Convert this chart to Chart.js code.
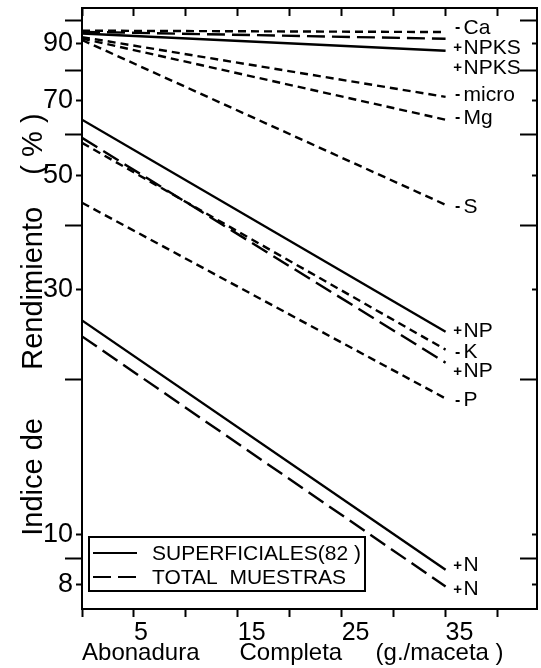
<!DOCTYPE html>
<html>
<head>
<meta charset="utf-8">
<script src="https://cdn.jsdelivr.net/npm/chart.js@4/dist/chart.umd.min.js"></script>
<style>
html, body { margin: 0; padding: 0; background: #fff; }
canvas { display: block; }
</style>
</head>
<body>
<canvas id="c" width="541" height="668"></canvas>
<script>
// ---- data ----
const xPoints = [0, 35];
const xTickValues = [0, 5, 10, 15, 20, 25, 30, 35, 40];
const xTickLabels = [5, 15, 25, 35];
const yTickValues = [8, 9, 10, 20, 30, 40, 50, 60, 70, 80, 90, 100];
const yTickLabels = [8, 10, 30, 50, 70, 90];

const caValues        = [95.5, 94.9];
const npksTotalValues = [95.0, 92.1];
const npksSupValues   = [94.3, 87.3];
const microValues     = [92.8, 71.0];
const mgValues        = [92.2, 64.1];
const sValues         = [91.6, 43.8];
const npSupValues     = [64.1, 24.8];
const kValues         = [57.8, 22.9];
const npTotalValues   = [59.1, 21.6];
const pValues         = [44.2, 18.4];
const nSupValues      = [26.1, 8.55];
const nTotalValues    = [24.3, 7.93];

const seriesValues = [caValues, npksTotalValues, npksSupValues, microValues, mgValues, sValues,
                      npSupValues, kValues, npTotalValues, pValues, nSupValues, nTotalValues];
const seriesPrefixes = ['-', '+', '+', '-', '-', '-', '+', '-', '+', '-', '+', '+'];
const seriesNames = ['Ca', 'NPKS', 'NPKS', 'micro', 'Mg', 'S', 'NP', 'K', 'NP', 'P', 'N', 'N'];
const seriesKinds = ['menos', 'total', 'sup', 'menos', 'menos', 'menos', 'sup', 'menos', 'total', 'menos', 'sup', 'total'];
const legendKinds = ['sup', 'total'];
const legendTexts = ['SUPERFICIALES(82 )', 'TOTAL  MUESTRAS'];
const xTitle = 'Abonadura      Completa     (g./maceta )     ';
const yTitle = 'Indice de      Rendimiento    ( % )    ';

// ---- styles ----
const FONT = "'Liberation Sans', Arial, sans-serif";
const dashes = { sup: [], total: [18, 7], menos: [8, 5] };
const labelNudge = [-4, 9, 17, -2, -2, 2, -1, 3, 9, 2, -4, 3];

const endLabels = {
  id: 'endLabels',
  afterDatasetsDraw(chart) {
    const { ctx } = chart;
    const xs = chart.scales.x, ys = chart.scales.y;
    ctx.save();
    ctx.fillStyle = '#000';
    ctx.textBaseline = 'middle';
    seriesValues.forEach((vals, i) => {
      const px = xs.getPixelForValue(xPoints[xPoints.length - 1]);
      const py = ys.getPixelForValue(vals[vals.length - 1]) + labelNudge[i];
      ctx.textAlign = 'center';
      ctx.font = (seriesPrefixes[i] === '+' ? 'bold 15px ' : 'bold 16px ') + FONT;
      ctx.fillText(seriesPrefixes[i], px + 12, py);
      ctx.textAlign = 'left';
      ctx.font = '21px ' + FONT;
      ctx.fillText(seriesNames[i], px + 18, py);
    });
    ctx.restore();
  }
};

const boxLegend = {
  id: 'boxLegend',
  afterDraw(chart) {
    const { ctx, chartArea } = chart;
    const bx = chartArea.left + 7, by = chartArea.bottom - 72, bw = 276, bh = 54;
    ctx.save();
    ctx.strokeStyle = '#000';
    ctx.fillStyle = '#000';
    ctx.lineWidth = 2;
    ctx.setLineDash([]);
    ctx.strokeRect(bx, by, bw, bh);
    ctx.font = '21px ' + FONT;
    ctx.textBaseline = 'middle';
    ctx.textAlign = 'left';
    legendTexts.forEach((t, i) => {
      const ly = by + 16 + i * 24;
      ctx.setLineDash(dashes[legendKinds[i]]);
      ctx.lineWidth = 2.2;
      ctx.beginPath();
      ctx.moveTo(bx + 4, ly);
      ctx.lineTo(bx + 48, ly);
      ctx.stroke();
      ctx.setLineDash([]);
      ctx.fillText(t, bx + 63, ly + 1);
    });
    ctx.restore();
  }
};

const isLabelledY = (ctx) => ctx.tick && yTickLabels.includes(ctx.tick.value);

new Chart(document.getElementById('c'), {
  type: 'line',
  data: {
    datasets: seriesValues.map((vals, i) => ({
      label: seriesPrefixes[i] + seriesNames[i],
      data: xPoints.map((x, j) => ({ x: x, y: vals[j] })),
      borderColor: '#000',
      borderWidth: 2.4,
      borderDash: dashes[seriesKinds[i]],
      pointRadius: 0,
      fill: false,
      tension: 0,
      xAxisID: 'x',
      yAxisID: 'y'
    }))
  },
  options: {
    responsive: false,
    animation: false,
    devicePixelRatio: 1,
    layout: { padding: { left: 0, right: 4, top: 8, bottom: 0 } },
    plugins: { legend: { display: false }, tooltip: { enabled: false } },
    scales: {
      x: {
        type: 'linear', position: 'bottom', min: 0, max: 43.8,
        border: { display: true, color: '#000', width: 2 },
        grid: { drawOnChartArea: false, drawTicks: true, tickLength: 8, tickColor: '#000', tickWidth: 2 },
        afterBuildTicks: (s) => { s.ticks = xTickValues.map(v => ({ value: v })); },
        ticks: {
          autoSkip: false, maxRotation: 0, minRotation: 0, align: 'start', padding: 1,
          color: '#000', font: { family: FONT, size: 25 },
          callback: (v) => xTickLabels.includes(v) ? String(v) : ''
        },
        title: { display: true, text: xTitle, color: '#000', font: { family: FONT, size: 24 }, padding: { top: 0, bottom: 0 } },
        afterFit: (s) => { s.height = 59; s.paddingLeft = 0; s.paddingRight = 0; }
      },
      xTop: {
        type: 'linear', axis: 'x', position: 'top', min: 0, max: 43.8,
        border: { display: true, color: '#000', width: 2 },
        grid: { drawOnChartArea: false, drawTicks: true, tickLength: -8, tickColor: '#000', tickWidth: 2 },
        afterBuildTicks: (s) => { s.ticks = xTickValues.map(v => ({ value: v })); },
        ticks: { display: false },
        afterFit: (s) => { s.height = 0; s.paddingLeft = 0; s.paddingRight = 0; }
      },
      y: {
        type: 'logarithmic', position: 'left', min: 7.17, max: 105.7,
        border: { display: true, color: '#000', width: 2 },
        grid: {
          drawOnChartArea: false, drawTicks: true, tickLength: 17, tickColor: '#000', tickWidth: 2,
          tickBorderDash: (ctx) => isLabelledY(ctx) ? [0, 11, 6, 60] : []
        },
        afterBuildTicks: (s) => { s.ticks = yTickValues.map(v => ({ value: v })); },
        ticks: {
          autoSkip: false, padding: -8, color: '#000', font: { family: FONT, size: 27 },
          callback: (v) => yTickLabels.includes(v) ? String(v) : ''
        },
        title: { display: true, text: yTitle, color: '#000', font: { family: FONT, size: 29 }, padding: { top: 17, bottom: 0 } },
        afterFit: (s) => { s.width = 82; s.paddingTop = 0; s.paddingBottom = 0; }
      },
      yRight: {
        type: 'logarithmic', axis: 'y', position: 'right', min: 7.17, max: 105.7,
        border: { display: true, color: '#000', width: 2 },
        grid: {
          drawOnChartArea: false, drawTicks: true, tickLength: -17, tickColor: '#000', tickWidth: 2,
          tickBorderDash: (ctx) => isLabelledY(ctx) ? [6, 60] : []
        },
        afterBuildTicks: (s) => { s.ticks = yTickValues.map(v => ({ value: v })); },
        ticks: { display: false },
        afterFit: (s) => { s.width = 0; s.paddingTop = 0; s.paddingBottom = 0; }
      }
    }
  },
  plugins: [endLabels, boxLegend]
});
</script>
</body>
</html>
